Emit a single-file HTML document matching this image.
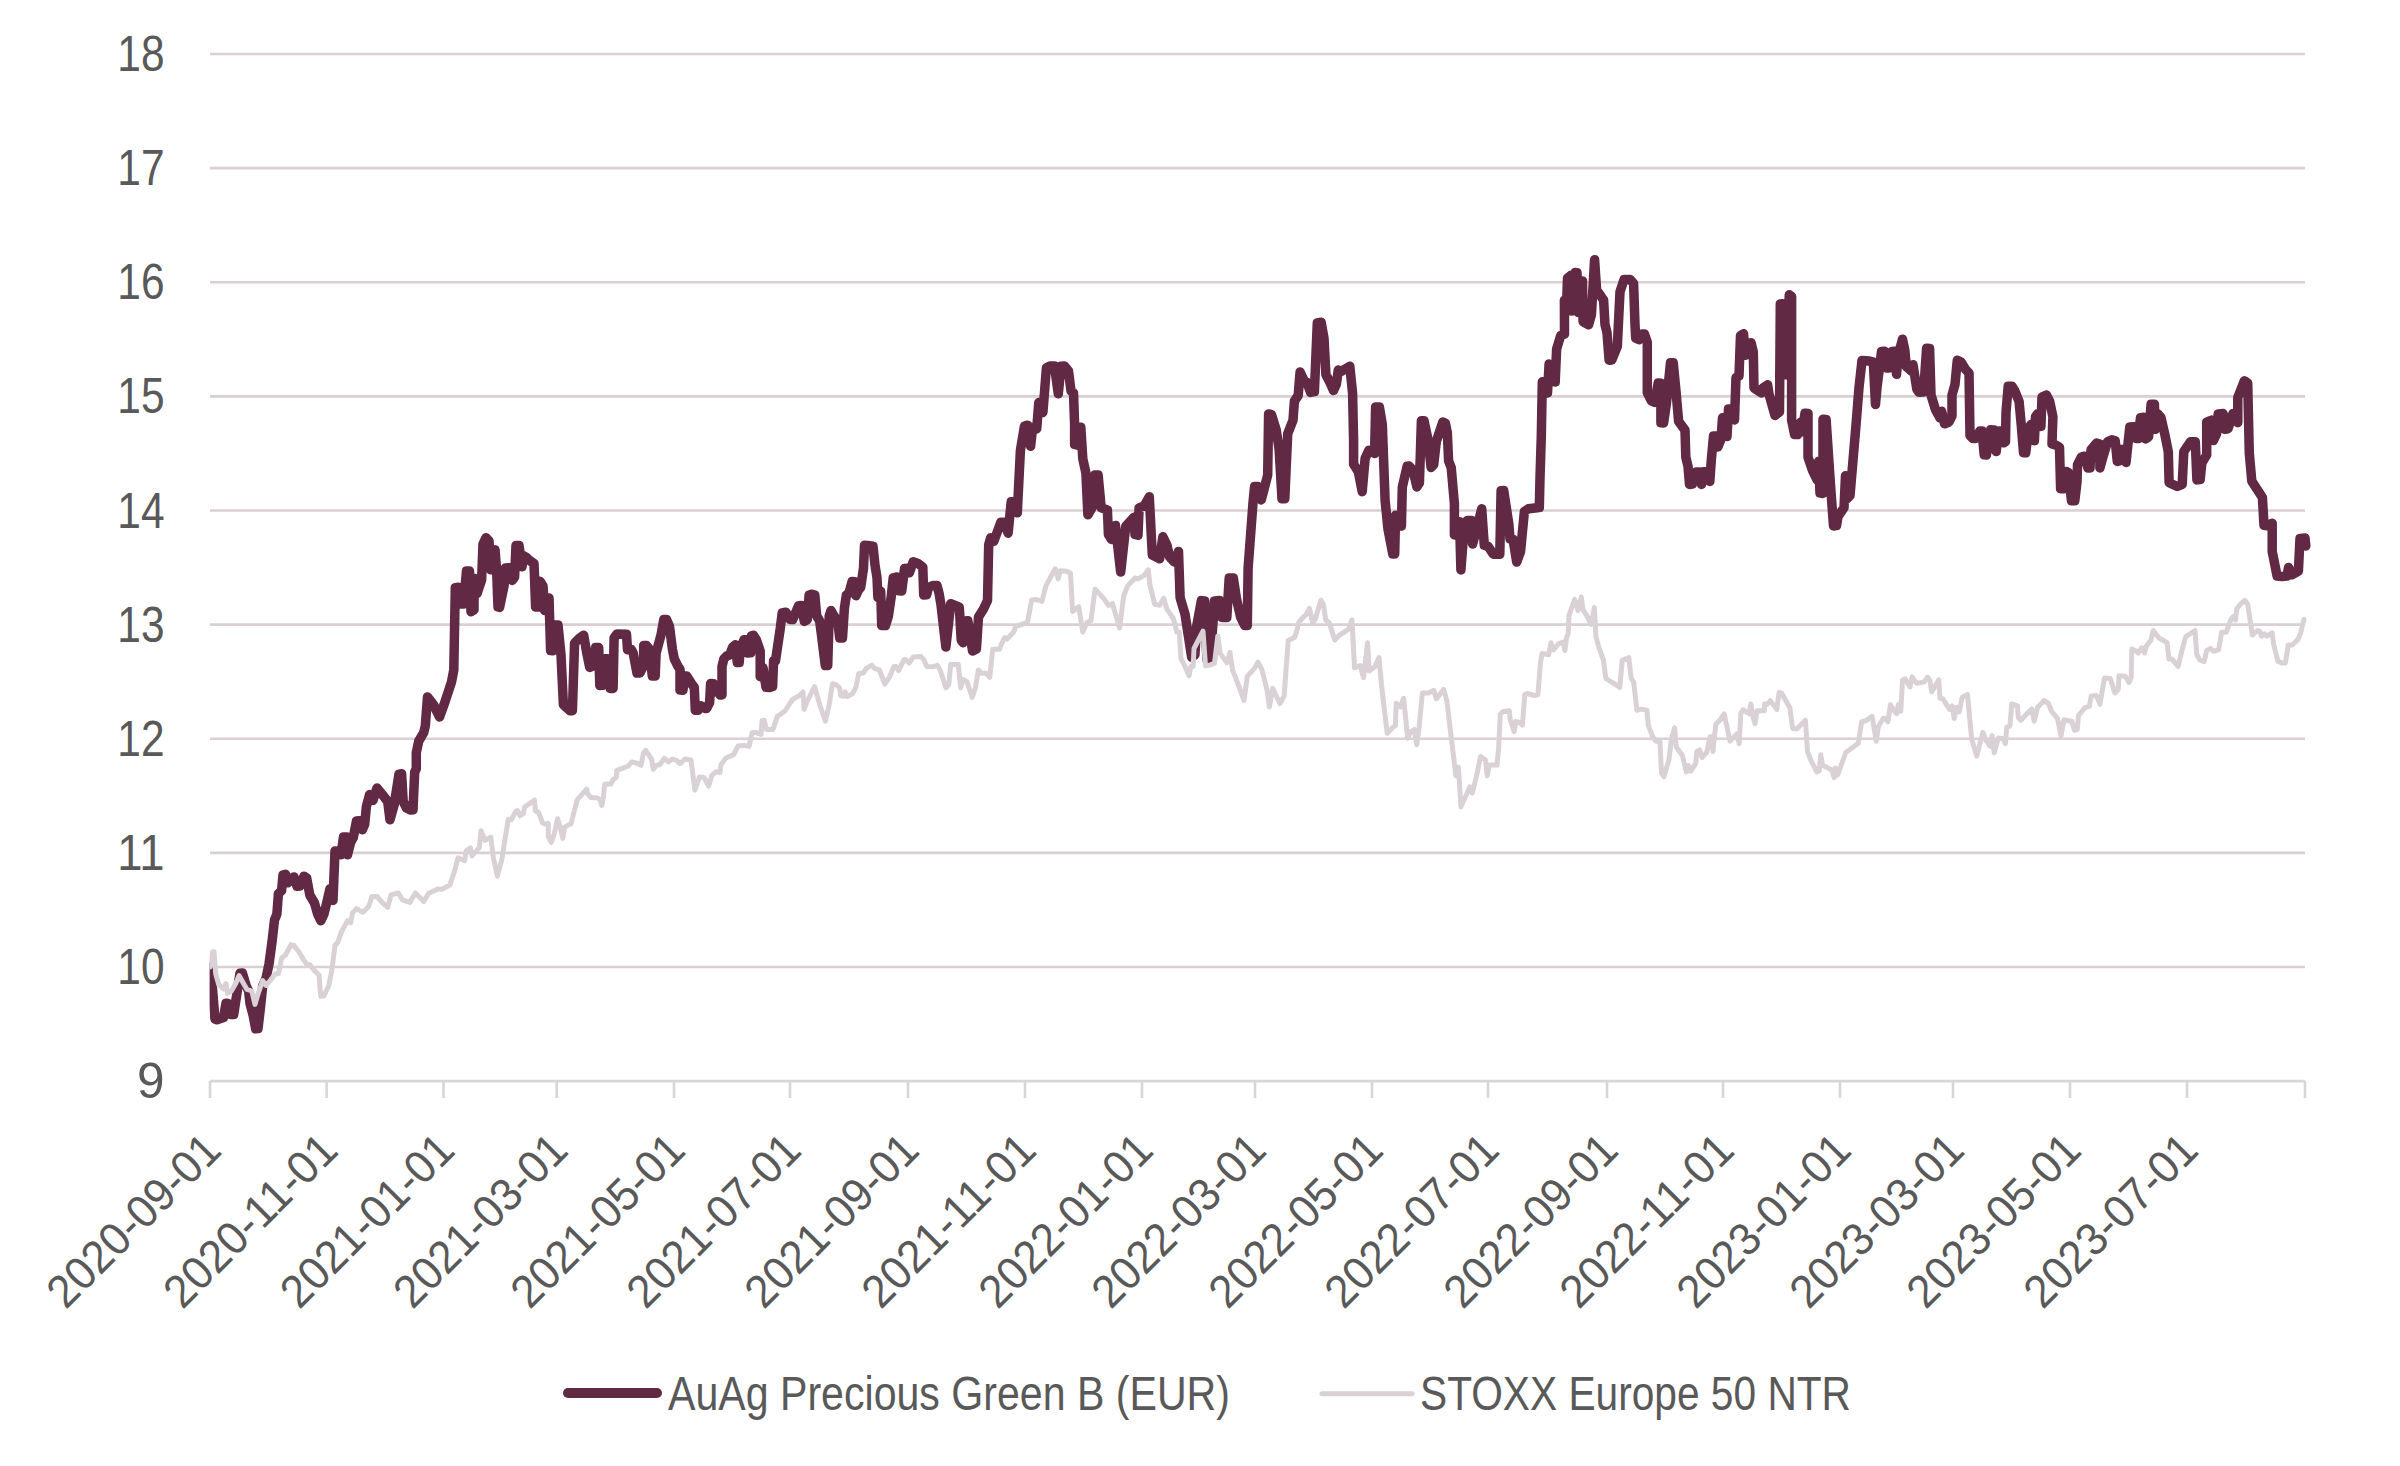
<!DOCTYPE html><html><head><meta charset="utf-8"><style>html,body{margin:0;padding:0;background:#fff;}svg{display:block;}text{font-family:"Liberation Sans",sans-serif;fill:#595959;}</style></head><body>
<svg width="2400" height="1466" viewBox="0 0 2400 1466">
<rect width="2400" height="1466" fill="#ffffff"/>
<line x1="210" y1="967.0" x2="2305" y2="967.0" stroke="#d9cfd4" stroke-width="2.6"/>
<line x1="210" y1="852.9" x2="2305" y2="852.9" stroke="#d9cfd4" stroke-width="2.6"/>
<line x1="210" y1="738.7" x2="2305" y2="738.7" stroke="#d9cfd4" stroke-width="2.6"/>
<line x1="210" y1="624.6" x2="2305" y2="624.6" stroke="#d9cfd4" stroke-width="2.6"/>
<line x1="210" y1="510.5" x2="2305" y2="510.5" stroke="#d9cfd4" stroke-width="2.6"/>
<line x1="210" y1="396.4" x2="2305" y2="396.4" stroke="#d9cfd4" stroke-width="2.6"/>
<line x1="210" y1="282.3" x2="2305" y2="282.3" stroke="#d9cfd4" stroke-width="2.6"/>
<line x1="210" y1="168.1" x2="2305" y2="168.1" stroke="#d9cfd4" stroke-width="2.6"/>
<line x1="210" y1="54.0" x2="2305" y2="54.0" stroke="#d9cfd4" stroke-width="2.6"/>
<line x1="210" y1="1081.1" x2="2305" y2="1081.1" stroke="#d6d6d6" stroke-width="2.6"/>
<line x1="210" y1="1081.1" x2="210" y2="1098" stroke="#d6d6d6" stroke-width="2.6"/>
<line x1="326.6" y1="1081.1" x2="326.6" y2="1098" stroke="#d6d6d6" stroke-width="2.6"/>
<line x1="443.5" y1="1081.1" x2="443.5" y2="1098" stroke="#d6d6d6" stroke-width="2.6"/>
<line x1="556.7" y1="1081.1" x2="556.7" y2="1098" stroke="#d6d6d6" stroke-width="2.6"/>
<line x1="674" y1="1081.1" x2="674" y2="1098" stroke="#d6d6d6" stroke-width="2.6"/>
<line x1="790" y1="1081.1" x2="790" y2="1098" stroke="#d6d6d6" stroke-width="2.6"/>
<line x1="908" y1="1081.1" x2="908" y2="1098" stroke="#d6d6d6" stroke-width="2.6"/>
<line x1="1025" y1="1081.1" x2="1025" y2="1098" stroke="#d6d6d6" stroke-width="2.6"/>
<line x1="1142" y1="1081.1" x2="1142" y2="1098" stroke="#d6d6d6" stroke-width="2.6"/>
<line x1="1255" y1="1081.1" x2="1255" y2="1098" stroke="#d6d6d6" stroke-width="2.6"/>
<line x1="1372" y1="1081.1" x2="1372" y2="1098" stroke="#d6d6d6" stroke-width="2.6"/>
<line x1="1488" y1="1081.1" x2="1488" y2="1098" stroke="#d6d6d6" stroke-width="2.6"/>
<line x1="1607" y1="1081.1" x2="1607" y2="1098" stroke="#d6d6d6" stroke-width="2.6"/>
<line x1="1723" y1="1081.1" x2="1723" y2="1098" stroke="#d6d6d6" stroke-width="2.6"/>
<line x1="1840" y1="1081.1" x2="1840" y2="1098" stroke="#d6d6d6" stroke-width="2.6"/>
<line x1="1953" y1="1081.1" x2="1953" y2="1098" stroke="#d6d6d6" stroke-width="2.6"/>
<line x1="2070" y1="1081.1" x2="2070" y2="1098" stroke="#d6d6d6" stroke-width="2.6"/>
<line x1="2187" y1="1081.1" x2="2187" y2="1098" stroke="#d6d6d6" stroke-width="2.6"/>
<line x1="2305" y1="1081.1" x2="2305" y2="1098" stroke="#d6d6d6" stroke-width="2.6"/>
<text x="164.5" y="1098.1" font-size="49.5" text-anchor="end">9</text>
<text x="164.5" y="984.0" font-size="49.5" text-anchor="end" textLength="47.2" lengthAdjust="spacingAndGlyphs">10</text>
<text x="164.5" y="869.9" font-size="49.5" text-anchor="end" textLength="47.2" lengthAdjust="spacingAndGlyphs">11</text>
<text x="164.5" y="755.7" font-size="49.5" text-anchor="end" textLength="47.2" lengthAdjust="spacingAndGlyphs">12</text>
<text x="164.5" y="641.6" font-size="49.5" text-anchor="end" textLength="47.2" lengthAdjust="spacingAndGlyphs">13</text>
<text x="164.5" y="527.5" font-size="49.5" text-anchor="end" textLength="47.2" lengthAdjust="spacingAndGlyphs">14</text>
<text x="164.5" y="413.4" font-size="49.5" text-anchor="end" textLength="47.2" lengthAdjust="spacingAndGlyphs">15</text>
<text x="164.5" y="299.3" font-size="49.5" text-anchor="end" textLength="47.2" lengthAdjust="spacingAndGlyphs">16</text>
<text x="164.5" y="185.1" font-size="49.5" text-anchor="end" textLength="47.2" lengthAdjust="spacingAndGlyphs">17</text>
<text x="164.5" y="71.0" font-size="49.5" text-anchor="end" textLength="47.2" lengthAdjust="spacingAndGlyphs">18</text>
<text x="0" y="0" font-size="46" text-anchor="end" textLength="223" lengthAdjust="spacingAndGlyphs" transform="translate(223.5,1152.5) rotate(-45)">2020-09-01</text>
<text x="0" y="0" font-size="46" text-anchor="end" textLength="223" lengthAdjust="spacingAndGlyphs" transform="translate(340.1,1152.5) rotate(-45)">2020-11-01</text>
<text x="0" y="0" font-size="46" text-anchor="end" textLength="223" lengthAdjust="spacingAndGlyphs" transform="translate(457.0,1152.5) rotate(-45)">2021-01-01</text>
<text x="0" y="0" font-size="46" text-anchor="end" textLength="223" lengthAdjust="spacingAndGlyphs" transform="translate(570.2,1152.5) rotate(-45)">2021-03-01</text>
<text x="0" y="0" font-size="46" text-anchor="end" textLength="223" lengthAdjust="spacingAndGlyphs" transform="translate(687.5,1152.5) rotate(-45)">2021-05-01</text>
<text x="0" y="0" font-size="46" text-anchor="end" textLength="223" lengthAdjust="spacingAndGlyphs" transform="translate(803.5,1152.5) rotate(-45)">2021-07-01</text>
<text x="0" y="0" font-size="46" text-anchor="end" textLength="223" lengthAdjust="spacingAndGlyphs" transform="translate(921.5,1152.5) rotate(-45)">2021-09-01</text>
<text x="0" y="0" font-size="46" text-anchor="end" textLength="223" lengthAdjust="spacingAndGlyphs" transform="translate(1038.5,1152.5) rotate(-45)">2021-11-01</text>
<text x="0" y="0" font-size="46" text-anchor="end" textLength="223" lengthAdjust="spacingAndGlyphs" transform="translate(1155.5,1152.5) rotate(-45)">2022-01-01</text>
<text x="0" y="0" font-size="46" text-anchor="end" textLength="223" lengthAdjust="spacingAndGlyphs" transform="translate(1268.5,1152.5) rotate(-45)">2022-03-01</text>
<text x="0" y="0" font-size="46" text-anchor="end" textLength="223" lengthAdjust="spacingAndGlyphs" transform="translate(1385.5,1152.5) rotate(-45)">2022-05-01</text>
<text x="0" y="0" font-size="46" text-anchor="end" textLength="223" lengthAdjust="spacingAndGlyphs" transform="translate(1501.5,1152.5) rotate(-45)">2022-07-01</text>
<text x="0" y="0" font-size="46" text-anchor="end" textLength="223" lengthAdjust="spacingAndGlyphs" transform="translate(1620.5,1152.5) rotate(-45)">2022-09-01</text>
<text x="0" y="0" font-size="46" text-anchor="end" textLength="223" lengthAdjust="spacingAndGlyphs" transform="translate(1736.5,1152.5) rotate(-45)">2022-11-01</text>
<text x="0" y="0" font-size="46" text-anchor="end" textLength="223" lengthAdjust="spacingAndGlyphs" transform="translate(1853.5,1152.5) rotate(-45)">2023-01-01</text>
<text x="0" y="0" font-size="46" text-anchor="end" textLength="223" lengthAdjust="spacingAndGlyphs" transform="translate(1966.5,1152.5) rotate(-45)">2023-03-01</text>
<text x="0" y="0" font-size="46" text-anchor="end" textLength="223" lengthAdjust="spacingAndGlyphs" transform="translate(2083.5,1152.5) rotate(-45)">2023-05-01</text>
<text x="0" y="0" font-size="46" text-anchor="end" textLength="223" lengthAdjust="spacingAndGlyphs" transform="translate(2200.5,1152.5) rotate(-45)">2023-07-01</text>
<defs><clipPath id="pc"><rect x="209.6" y="0" width="2105" height="1466"/></clipPath></defs><g clip-path="url(#pc)">
<path d="M210.0,967.0 L211.0,971.0 L215.0,1019.0 L217.0,1019.8 L223.5,1017.6 L226.0,1003.2 L228.0,1003.5 L231.0,1014.5 L233.7,1014.5 L240.0,973.2 L242.4,973.0 L246.3,986.0 L248.6,991.0 L250.0,1003.5 L253.3,1016.0 L255.7,1028.8 L258.0,1028.6 L260.4,1008.0 L262.7,986.0 L266.0,978.4 L269.0,964.0 L272.0,942.0 L274.5,920.0 L276.9,914.0 L278.4,893.7 L281.6,890.6 L283.0,875.0 L285.5,874.2 L287.8,882.8 L290.0,881.0 L294.0,876.9 L297.0,886.3 L300.0,886.0 L304.0,876.2 L306.7,878.0 L309.8,895.0 L314.5,903.0 L317.6,914.0 L320.8,920.8 L324.0,914.0 L327.0,901.6 L330.0,888.7 L333.0,900.4 L335.0,851.0 L338.0,851.2 L341.0,854.8 L343.5,836.9 L346.7,837.0 L347.5,854.8 L350.6,842.5 L353.3,837.5 L356.5,821.0 L359.0,820.7 L362.3,829.8 L364.7,824.4 L366.4,806.4 L369.6,794.5 L373.0,800.3 L377.0,788.0 L382.7,795.0 L387.7,801.5 L390.0,819.8 L394.2,804.8 L399.0,774.1 L401.6,773.7 L403.2,801.5 L406.5,808.0 L410.6,810.1 L413.0,809.7 L414.7,772.0 L416.3,768.8 L416.3,752.4 L418.8,741.0 L423.7,732.7 L425.3,726.2 L427.5,696.9 L433.5,704.7 L439.5,717.0 L444.0,704.7 L451.5,682.0 L453.8,670.0 L455.3,587.6 L458.3,587.2 L460.5,604.0 L463.5,604.0 L466.5,571.0 L469.5,571.0 L471.0,611.8 L474.0,610.0 L474.0,578.2 L477.0,593.8 L481.6,580.0 L483.0,544.0 L486.0,537.7 L489.0,541.0 L490.6,569.8 L493.6,549.7 L495.0,550.0 L496.6,569.5 L498.0,607.0 L499.6,607.4 L504.0,586.0 L505.6,568.0 L510.0,567.7 L512.3,580.4 L514.6,577.0 L516.0,545.5 L519.0,545.5 L522.0,566.8 L523.6,555.7 L526.6,557.5 L529.6,560.5 L534.0,563.5 L535.6,607.0 L538.6,607.0 L540.0,581.2 L543.0,586.0 L544.6,610.4 L547.6,598.0 L549.0,598.0 L550.6,650.6 L552.9,650.8 L555.0,625.0 L558.0,625.0 L561.0,655.0 L563.4,704.7 L570.0,710.7 L572.4,710.7 L574.6,643.0 L579.0,638.6 L583.7,635.2 L586.6,652.0 L589.7,667.4 L594.0,665.6 L595.6,647.6 L598.7,647.6 L599.8,685.5 L602.6,685.3 L604.6,658.8 L607.4,658.8 L610.3,688.4 L613.1,688.4 L614.1,637.8 L617.0,634.0 L626.5,634.2 L627.5,649.8 L631.3,649.5 L633.2,653.0 L637.0,673.0 L640.0,673.0 L643.7,665.5 L643.7,645.4 L646.6,645.6 L649.4,649.2 L652.3,676.0 L655.2,676.0 L656.1,653.0 L661.0,635.0 L663.8,619.6 L666.6,619.6 L669.5,626.3 L672.4,649.2 L674.3,658.8 L678.0,666.4 L680.0,669.3 L680.0,690.0 L682.9,690.3 L684.8,676.0 L686.7,676.0 L691.5,683.6 L694.3,687.4 L695.3,710.3 L698.2,710.3 L701.0,705.8 L704.8,708.4 L706.7,708.4 L709.6,702.7 L710.6,683.6 L713.4,683.8 L714.4,692.0 L718.2,686.7 L720.1,695.0 L722.0,695.0 L722.0,666.4 L723.9,658.8 L726.8,655.9 L729.7,655.0 L732.5,647.3 L735.4,644.7 L737.3,662.6 L739.2,662.6 L740.2,649.2 L744.0,639.7 L746.9,639.7 L746.9,653.0 L750.7,652.8 L751.6,635.8 L753.5,635.2 L756.4,639.7 L760.2,651.0 L760.2,676.7 L763.0,667.6 L766.0,687.2 L769.8,687.4 L772.6,686.5 L773.6,660.7 L775.5,660.7 L780.3,628.2 L782.2,613.0 L786.0,612.2 L789.8,619.4 L792.7,619.6 L798.6,605.7 L801.5,605.5 L804.3,621.4 L807.2,619.8 L809.1,595.0 L812.0,594.2 L814.8,595.0 L816.7,616.0 L819.6,620.7 L821.5,635.0 L825.3,665.6 L827.7,665.6 L829.2,616.0 L831.0,610.5 L834.0,616.0 L837.8,620.7 L839.7,638.0 L842.5,638.0 L844.4,608.3 L846.4,595.0 L849.0,593.0 L852.1,581.6 L855.0,581.8 L856.0,595.7 L857.8,591.0 L860.7,587.3 L863.5,568.2 L864.5,545.3 L867.4,545.5 L873.0,546.2 L875.0,565.3 L877.0,577.8 L877.9,597.6 L880.7,591.2 L881.7,625.5 L885.5,625.5 L888.4,616.0 L891.2,596.9 L893.2,577.8 L897.0,577.0 L898.9,590.8 L901.7,591.1 L904.6,568.4 L907.5,568.2 L909.4,572.8 L913.2,561.8 L918.0,563.4 L922.8,567.2 L923.7,595.0 L926.6,594.8 L928.5,587.3 L933.3,585.4 L937.0,585.4 L939.2,593.9 L941.0,605.0 L945.9,647.1 L950.7,603.7 L959.3,607.2 L961.2,640.1 L963.1,642.7 L964.9,621.0 L967.8,620.7 L972.6,651.0 L976.4,649.0 L978.5,617.0 L983.5,609.0 L987.5,600.5 L988.7,544.7 L990.7,537.7 L993.8,541.4 L1000.9,522.2 L1004.0,522.2 L1008.1,533.2 L1011.2,501.7 L1015.3,501.7 L1017.3,512.8 L1020.4,450.5 L1024.5,426.0 L1027.5,425.2 L1030.6,446.2 L1032.7,427.2 L1036.7,428.8 L1038.8,402.6 L1042.9,412.5 L1046.4,368.0 L1050.0,366.0 L1054.5,366.0 L1058.3,393.8 L1061.0,366.2 L1064.5,366.0 L1068.5,371.0 L1071.0,391.0 L1073.5,393.0 L1074.6,424.0 L1074.6,444.4 L1077.7,445.2 L1080.8,427.2 L1082.8,458.7 L1085.9,473.0 L1087.9,514.8 L1092.0,507.8 L1095.0,475.0 L1098.1,475.0 L1101.2,507.8 L1107.4,509.9 L1108.4,534.4 L1111.5,539.4 L1115.5,525.4 L1117.6,544.7 L1120.7,572.1 L1123.7,544.7 L1125.8,526.2 L1134.0,517.2 L1135.0,534.4 L1138.0,535.3 L1139.1,507.8 L1144.2,505.8 L1149.3,496.7 L1150.3,516.0 L1152.3,555.1 L1159.6,558.8 L1162.9,536.7 L1167.0,545.3 L1169.5,556.8 L1174.4,562.1 L1178.5,551.4 L1180.1,597.7 L1185.0,614.1 L1188.3,635.4 L1191.6,657.1 L1194.9,655.0 L1196.5,627.2 L1201.4,600.6 L1204.7,601.0 L1205.5,633.7 L1207.1,660.0 L1210.4,660.0 L1214.5,601.0 L1219.4,600.6 L1221.9,617.4 L1226.8,617.4 L1229.2,578.1 L1233.3,578.1 L1236.6,599.4 L1240.7,617.4 L1244.8,625.6 L1247.3,625.6 L1248.1,568.2 L1253.0,502.7 L1254.6,486.4 L1257.9,486.4 L1261.2,499.9 L1264.4,488.0 L1267.7,474.9 L1268.6,413.9 L1271.5,414.6 L1276.2,429.9 L1279.1,449.0 L1282.0,498.7 L1284.8,498.7 L1287.7,433.7 L1293.0,420.3 L1294.4,401.2 L1298.2,395.5 L1300.1,371.9 L1303.9,380.2 L1306.8,382.1 L1310.6,392.4 L1314.4,391.7 L1317.3,322.9 L1321.1,322.2 L1324.0,338.2 L1325.9,374.5 L1330.7,384.0 L1333.5,390.5 L1336.4,384.0 L1338.3,370.0 L1341.2,371.4 L1349.8,366.2 L1352.6,393.6 L1353.6,441.4 L1353.6,464.3 L1358.4,471.9 L1362.2,491.7 L1365.1,458.5 L1368.9,450.2 L1374.6,453.5 L1375.6,407.0 L1379.4,407.0 L1382.3,424.2 L1385.1,500.6 L1388.0,529.2 L1392.8,554.1 L1394.7,554.1 L1395.6,515.2 L1401.4,526.1 L1402.3,487.2 L1407.1,466.2 L1409.1,466.0 L1413.0,470.0 L1416.9,486.9 L1419.4,483.0 L1421.4,420.7 L1424.0,420.7 L1427.9,438.9 L1431.1,467.5 L1433.7,464.8 L1436.3,441.5 L1442.8,421.9 L1445.4,423.3 L1447.3,432.4 L1448.6,460.9 L1451.2,467.4 L1454.4,503.7 L1454.4,534.9 L1459.6,521.7 L1460.9,569.9 L1463.5,536.1 L1467.4,520.5 L1471.3,520.5 L1472.6,544.0 L1477.8,524.4 L1481.7,508.8 L1484.3,545.3 L1488.1,546.4 L1493.3,554.2 L1499.8,554.3 L1501.1,490.7 L1503.7,490.6 L1508.9,524.4 L1510.0,538.8 L1513.0,539.2 L1516.7,562.1 L1520.5,551.7 L1524.4,511.5 L1528.3,508.8 L1537.4,507.7 L1539.3,507.6 L1540.0,477.8 L1541.3,436.3 L1542.3,381.8 L1545.0,381.8 L1547.5,392.9 L1549.1,363.9 L1552.5,369.6 L1555.2,382.0 L1556.6,349.1 L1560.7,335.5 L1564.5,334.1 L1564.4,300.0 L1566.8,298.6 L1567.5,278.2 L1570.9,275.3 L1571.5,311.1 L1575.0,272.6 L1577.0,272.7 L1578.0,312.4 L1581.1,280.9 L1582.5,280.9 L1583.1,321.8 L1588.6,324.7 L1591.4,315.0 L1594.6,259.7 L1596.6,290.0 L1603.6,300.0 L1605.0,324.5 L1607.0,332.7 L1609.1,360.2 L1611.8,360.0 L1617.3,346.4 L1620.0,291.8 L1624.1,279.5 L1630.2,279.4 L1633.6,283.6 L1635.0,324.5 L1635.7,338.2 L1639.1,339.7 L1641.8,333.9 L1644.5,334.1 L1647.3,342.3 L1647.3,392.7 L1651.4,400.9 L1654.8,402.4 L1658.2,383.0 L1660.9,383.2 L1660.9,422.7 L1663.6,422.9 L1666.4,403.6 L1670.5,362.7 L1673.2,362.7 L1675.9,390.0 L1678.6,421.4 L1685.0,430.1 L1685.8,457.1 L1688.0,466.1 L1689.5,484.4 L1692.5,484.1 L1696.3,472.1 L1699.3,472.1 L1701.5,484.4 L1703.8,471.8 L1707.5,472.1 L1709.8,481.4 L1711.3,460.1 L1713.5,436.1 L1716.5,436.1 L1718.0,446.9 L1721.0,439.1 L1722.5,417.8 L1725.5,419.6 L1727.0,436.4 L1728.5,409.1 L1731.5,409.1 L1734.5,419.9 L1736.0,377.6 L1739.0,376.1 L1740.5,335.5 L1743.5,333.7 L1745.5,355.3 L1751.0,342.7 L1753.3,352.0 L1754.0,388.0 L1758.6,391.1 L1761.6,392.9 L1763.0,388.0 L1767.6,384.8 L1769.0,394.1 L1775.0,415.4 L1779.5,412.0 L1780.3,304.0 L1782.6,303.7 L1785.5,374.8 L1789.3,294.7 L1791.6,296.5 L1791.6,420.0 L1794.6,434.6 L1797.6,434.6 L1800.6,422.3 L1802.0,431.9 L1805.0,413.3 L1808.0,413.6 L1808.0,457.1 L1812.6,470.6 L1817.1,479.9 L1818.6,461.3 L1820.0,493.1 L1823.0,493.4 L1823.0,419.3 L1826.1,419.6 L1830.5,485.1 L1833.5,525.9 L1836.5,525.6 L1838.0,516.6 L1844.0,507.6 L1845.5,475.8 L1847.0,498.9 L1850.0,495.6 L1856.0,425.1 L1859.0,387.5 L1862.0,360.5 L1869.5,361.0 L1873.3,362.0 L1875.5,404.4 L1877.0,387.5 L1881.5,351.5 L1884.5,351.2 L1886.8,368.0 L1889.0,368.0 L1892.0,351.5 L1895.0,351.2 L1896.5,374.3 L1898.0,356.0 L1902.5,339.2 L1904.8,350.0 L1906.3,366.5 L1911.6,371.3 L1913.0,364.7 L1916.8,389.0 L1919.0,392.3 L1923.6,392.0 L1926.6,348.2 L1929.6,348.5 L1931.0,395.0 L1935.6,410.0 L1940.0,417.8 L1941.6,411.2 L1944.6,423.8 L1949.0,422.0 L1952.0,416.0 L1952.0,395.0 L1955.0,384.5 L1957.3,360.2 L1961.0,362.0 L1965.6,369.5 L1969.0,373.0 L1970.0,435.6 L1973.0,438.6 L1975.5,438.5 L1979.8,431.0 L1982.0,431.0 L1984.2,454.8 L1986.4,455.0 L1990.7,429.8 L1994.0,430.0 L1996.2,451.6 L1998.4,431.0 L2000.6,431.0 L2003.8,442.8 L2005.5,441.9 L2006.0,412.4 L2008.2,386.2 L2012.0,386.3 L2014.7,390.6 L2019.1,401.5 L2021.3,425.5 L2023.5,452.7 L2025.7,452.8 L2028.9,427.7 L2031.1,424.5 L2034.4,440.7 L2035.5,416.8 L2037.7,413.6 L2040.9,426.5 L2042.0,397.1 L2046.4,395.0 L2049.7,401.5 L2052.9,416.8 L2052.0,443.9 L2056.2,445.2 L2059.5,447.3 L2060.6,488.7 L2062.8,488.8 L2066.0,471.4 L2068.2,472.4 L2071.5,500.8 L2074.8,500.8 L2077.0,482.0 L2077.5,464.8 L2081.3,457.1 L2084.6,456.2 L2087.9,468.0 L2090.0,467.9 L2091.1,449.5 L2096.6,443.1 L2099.9,444.0 L2099.9,467.9 L2103.2,456.0 L2107.5,441.9 L2111.9,439.8 L2115.2,440.8 L2117.3,461.4 L2120.6,460.4 L2120.6,449.5 L2125.0,449.5 L2126.0,462.5 L2129.8,427.1 L2133.9,426.7 L2136.4,438.6 L2138.0,438.6 L2140.5,417.7 L2143.7,417.3 L2145.4,439.0 L2148.6,436.9 L2151.1,404.2 L2154.4,404.2 L2155.2,429.2 L2157.6,413.6 L2160.9,417.3 L2165.0,435.3 L2168.3,451.7 L2169.1,482.7 L2177.3,486.5 L2182.2,484.4 L2183.8,451.7 L2190.4,441.8 L2195.3,441.8 L2196.9,479.9 L2200.2,479.5 L2201.8,463.1 L2206.7,454.9 L2206.7,422.2 L2211.7,420.1 L2213.3,440.6 L2216.6,433.6 L2218.2,414.0 L2223.1,413.6 L2224.7,429.2 L2228.0,428.7 L2232.9,413.6 L2237.8,422.6 L2237.8,397.6 L2244.4,380.8 L2247.7,382.9 L2249.3,453.3 L2251.8,481.1 L2262.4,497.5 L2264.0,525.3 L2267.3,525.7 L2272.2,523.2 L2272.2,551.5 L2277.1,576.0 L2282.0,576.5 L2286.9,576.0 L2288.6,567.4 L2291.8,574.8 L2298.4,571.1 L2300.0,538.4 L2305.0,538.0 L2305.8,546.0" fill="none" stroke="#612943" stroke-width="9.5" stroke-linejoin="round" stroke-linecap="round"/>
<path d="M210.0,967.0 L212.5,951.8 L214.0,951.8 L215.7,973.7 L218.8,984.7 L223.5,988.8 L225.9,983.6 L227.5,993.4 L231.4,991.0 L236.0,983.0 L239.0,975.6 L242.4,981.6 L247.0,989.4 L251.8,991.0 L255.0,1004.4 L258.0,994.0 L262.7,980.6 L266.0,985.4 L270.6,980.0 L275.3,973.7 L278.4,973.7 L281.6,958.0 L285.5,955.0 L291.0,944.6 L294.0,945.5 L298.8,951.8 L303.5,959.6 L307.5,965.4 L309.8,964.6 L314.5,970.6 L319.0,975.0 L320.8,996.4 L324.0,995.7 L328.6,986.0 L331.8,970.6 L335.0,945.5 L338.0,942.0 L341.0,933.0 L344.3,926.7 L347.5,920.6 L350.6,922.9 L352.5,912.9 L356.5,908.6 L363.0,912.3 L368.8,906.3 L372.0,896.5 L377.0,896.5 L382.7,903.0 L387.7,907.4 L391.0,894.9 L398.3,893.0 L402.4,899.8 L409.8,902.4 L415.5,893.0 L423.7,901.6 L428.6,893.2 L438.4,888.9 L441.7,889.4 L449.9,885.0 L454.8,870.3 L458.0,857.8 L464.6,860.7 L466.3,850.6 L470.4,848.0 L472.0,855.8 L479.4,847.4 L481.0,830.8 L485.0,840.2 L490.8,837.3 L493.3,857.2 L497.4,876.2 L502.0,858.7 L505.4,836.7 L508.3,819.3 L511.2,819.8 L515.9,811.2 L517.6,810.6 L520.0,815.8 L523.4,813.5 L524.6,807.1 L528.6,804.2 L532.1,801.9 L534.4,800.2 L535.6,811.2 L538.5,812.3 L542.5,822.8 L544.9,823.9 L548.3,823.4 L548.3,836.7 L551.2,842.4 L554.1,834.3 L557.6,818.7 L559.9,826.2 L562.8,838.4 L564.6,827.4 L568.0,825.0 L571.0,823.9 L572.7,817.0 L577.3,799.6 L582.0,794.3 L586.6,789.2 L587.8,794.3 L591.2,797.8 L597.0,797.8 L600.0,799.6 L601.7,805.4 L603.4,797.2 L604.6,784.5 L606.9,783.9 L611.0,783.9 L612.7,779.9 L616.2,777.5 L616.7,770.6 L620.8,768.8 L628.3,766.0 L631.8,761.9 L636.4,763.0 L641.0,765.4 L643.4,753.2 L645.7,750.3 L651.5,759.0 L653.3,769.4 L656.2,765.4 L659.6,764.8 L664.3,758.4 L668.3,761.9 L672.4,759.0 L677.0,760.7 L680.0,763.6 L685.1,759.0 L691.0,760.0 L694.9,790.1 L699.3,777.1 L704.2,777.6 L708.6,786.2 L711.8,775.4 L716.2,771.6 L720.0,772.6 L721.1,764.5 L726.0,758.0 L733.7,754.6 L738.0,745.9 L743.5,745.4 L749.0,746.4 L752.2,732.8 L755.5,732.3 L761.0,734.4 L762.0,720.8 L764.2,720.3 L766.4,729.5 L773.0,729.5 L777.3,716.4 L785.0,711.0 L789.3,704.4 L792.6,699.5 L799.2,695.7 L803.0,691.9 L804.1,709.3 L806.8,702.2 L814.5,686.5 L820.0,705.5 L825.4,721.3 L829.2,704.4 L832.5,683.7 L836.3,684.8 L839.6,688.0 L840.7,695.7 L843.9,696.2 L845.0,691.9 L847.2,696.7 L852.7,693.5 L856.0,687.0 L858.7,673.8 L863.6,672.8 L866.3,668.4 L871.8,665.2 L874.5,668.4 L879.4,670.0 L884.8,684.0 L889.6,677.0 L893.8,666.6 L896.2,666.5 L898.6,670.6 L903.9,659.8 L905.8,659.4 L909.1,663.0 L913.4,656.9 L921.1,656.6 L923.9,659.8 L926.8,666.5 L933.5,666.8 L937.3,665.2 L940.2,670.3 L945.9,687.8 L948.8,684.6 L950.7,664.6 L958.3,664.6 L960.7,687.8 L963.1,679.5 L966.9,681.7 L972.2,697.4 L975.5,687.5 L978.4,669.9 L981.2,673.2 L986.0,673.2 L989.8,677.3 L992.7,649.3 L999.4,649.3 L1001.3,644.5 L1004.6,637.5 L1007.0,639.1 L1013.7,632.1 L1015.6,626.4 L1021.4,624.5 L1027.5,622.4 L1031.6,600.0 L1036.7,599.5 L1041.9,601.4 L1046.0,585.6 L1055.2,568.8 L1058.2,578.9 L1060.3,570.8 L1066.4,571.3 L1070.5,573.3 L1072.6,611.6 L1078.7,606.6 L1082.8,632.1 L1086.9,622.4 L1091.0,620.4 L1095.0,589.3 L1103.3,597.9 L1108.4,605.4 L1112.5,603.6 L1119.6,628.0 L1123.7,595.8 L1127.8,585.6 L1135.0,578.0 L1138.0,578.9 L1144.2,575.4 L1148.3,569.8 L1149.8,584.6 L1154.7,604.3 L1159.6,605.3 L1163.7,598.3 L1167.0,609.2 L1173.6,619.0 L1176.8,632.1 L1179.3,632.1 L1180.9,658.3 L1185.0,666.5 L1189.1,675.7 L1190.8,666.5 L1193.2,666.5 L1194.0,648.5 L1203.0,631.1 L1205.5,665.9 L1210.4,664.9 L1214.5,663.2 L1217.8,636.0 L1220.2,653.4 L1226.8,662.6 L1230.0,652.4 L1232.5,669.8 L1238.2,684.5 L1244.0,700.3 L1247.3,676.3 L1254.6,668.1 L1257.9,662.2 L1262.0,669.8 L1266.9,689.4 L1269.4,706.9 L1272.6,688.4 L1280.0,703.6 L1284.1,696.0 L1288.2,640.6 L1294.7,637.3 L1296.4,632.4 L1298.8,622.6 L1301.3,619.3 L1306.2,614.4 L1309.5,608.4 L1312.7,623.6 L1315.2,619.3 L1320.9,600.2 L1323.4,604.5 L1325.8,620.1 L1329.1,622.6 L1334.8,640.0 L1338.9,635.6 L1348.7,629.1 L1352.0,619.9 L1354.5,667.8 L1360.2,665.7 L1363.5,677.6 L1367.6,642.8 L1369.2,671.1 L1374.9,666.7 L1379.0,657.5 L1381.5,684.7 L1387.2,733.2 L1392.9,727.3 L1395.4,725.7 L1396.2,703.3 L1400.3,707.1 L1403.6,698.4 L1407.7,738.2 L1410.1,732.2 L1414.2,729.5 L1416.7,744.7 L1419.1,727.3 L1422.4,692.9 L1428.9,692.9 L1433.8,690.3 L1436.3,698.9 L1443.7,689.4 L1446.9,701.1 L1451.8,742.0 L1455.9,775.8 L1458.4,767.2 L1460.9,806.9 L1469.9,786.8 L1472.3,793.0 L1475.7,779.7 L1480.6,756.5 L1483.1,758.4 L1485.5,760.0 L1487.2,775.8 L1489.6,764.9 L1497.0,764.9 L1498.6,748.6 L1500.3,714.2 L1502.7,711.8 L1509.3,710.7 L1510.1,719.1 L1514.2,731.6 L1515.8,721.4 L1519.1,722.4 L1522.4,725.1 L1524.8,694.6 L1527.3,693.5 L1534.6,695.6 L1537.9,694.6 L1540.4,663.5 L1542.0,653.4 L1548.6,654.7 L1551.0,642.8 L1553.5,649.8 L1558.4,643.8 L1563.3,642.0 L1564.9,650.6 L1566.6,637.3 L1568.2,634.0 L1569.0,615.2 L1574.7,599.4 L1578.0,610.5 L1581.3,597.0 L1582.9,609.5 L1587.0,616.0 L1591.1,624.4 L1594.4,607.6 L1596.0,637.3 L1599.3,648.7 L1603.4,660.2 L1605.8,678.2 L1609.1,680.7 L1615.7,684.7 L1619.8,687.4 L1622.2,660.2 L1628.8,657.5 L1631.2,678.2 L1633.7,682.3 L1636.9,710.3 L1641.0,709.1 L1646.8,710.1 L1648.4,725.7 L1652.5,736.3 L1655.8,741.2 L1659.9,741.2 L1661.5,773.1 L1663.9,776.6 L1668.9,760.0 L1671.3,739.6 L1674.6,727.9 L1676.2,746.9 L1682.5,755.8 L1686.3,771.9 L1688.3,765.6 L1690.8,771.1 L1695.8,763.3 L1696.7,751.7 L1699.6,749.8 L1702.1,757.7 L1706.7,752.5 L1710.0,736.7 L1711.7,736.7 L1712.9,751.5 L1715.8,724.2 L1720.0,720.0 L1724.2,713.9 L1730.0,741.1 L1736.7,733.9 L1739.2,743.6 L1740.8,713.3 L1743.3,709.8 L1749.2,713.6 L1750.8,703.9 L1752.5,715.0 L1755.0,723.6 L1757.1,710.8 L1764.2,710.8 L1764.6,703.9 L1766.7,704.4 L1770.4,700.6 L1776.7,709.4 L1779.2,692.3 L1781.7,693.3 L1790.0,708.3 L1792.5,728.3 L1796.7,729.0 L1805.4,720.2 L1807.5,751.7 L1810.8,760.0 L1816.7,771.9 L1819.2,770.8 L1820.8,754.8 L1822.5,765.0 L1831.7,770.0 L1834.2,777.7 L1835.4,768.1 L1837.5,775.2 L1845.8,752.5 L1849.2,750.0 L1858.3,743.3 L1861.7,721.7 L1865.8,720.8 L1872.1,716.4 L1876.3,741.1 L1878.3,726.7 L1883.3,718.3 L1885.0,718.3 L1887.9,721.9 L1890.4,704.8 L1894.2,710.8 L1896.7,713.6 L1898.3,704.8 L1900.8,711.1 L1902.5,680.0 L1905.0,678.9 L1910.0,686.9 L1912.1,676.9 L1916.7,683.2 L1920.0,682.7 L1924.2,681.9 L1927.5,677.3 L1930.0,680.8 L1931.7,691.9 L1938.8,679.8 L1940.0,698.3 L1942.9,698.8 L1949.6,709.4 L1952.1,706.0 L1954.2,718.6 L1956.7,707.3 L1959.2,711.9 L1962.1,697.5 L1967.5,694.4 L1969.2,713.3 L1971.7,739.2 L1976.7,756.1 L1980.0,743.3 L1982.9,732.3 L1985.8,740.0 L1990.0,746.1 L1992.1,735.6 L1994.2,752.7 L1998.3,738.1 L2003.3,738.8 L2005.4,743.6 L2006.7,727.5 L2010.0,725.8 L2011.7,703.9 L2017.5,705.8 L2018.3,717.5 L2020.8,720.2 L2025.0,715.8 L2031.7,708.9 L2034.2,721.1 L2037.5,707.5 L2044.2,700.6 L2048.3,703.3 L2051.7,711.7 L2057.5,718.3 L2061.0,736.0 L2063.9,719.8 L2072.0,721.5 L2074.4,730.2 L2077.3,729.6 L2078.4,715.7 L2084.8,707.6 L2089.4,706.4 L2091.2,696.0 L2096.4,695.4 L2099.9,704.1 L2104.5,678.0 L2110.3,678.6 L2114.9,693.0 L2118.4,689.0 L2119.0,675.7 L2125.4,676.3 L2128.9,682.6 L2131.2,677.4 L2131.8,649.0 L2135.8,650.7 L2138.1,653.0 L2141.6,647.9 L2144.5,653.0 L2146.3,646.1 L2150.9,640.3 L2153.2,630.5 L2159.0,638.0 L2167.1,642.6 L2168.9,658.9 L2171.8,658.9 L2178.1,666.4 L2182.2,649.6 L2185.7,636.8 L2195.0,630.5 L2196.7,654.2 L2199.6,660.0 L2204.2,661.7 L2206.6,650.7 L2210.6,648.4 L2213.5,651.3 L2218.7,649.6 L2221.6,632.2 L2226.3,632.2 L2230.9,619.4 L2233.2,616.6 L2235.5,620.0 L2236.7,609.0 L2240.2,604.4 L2244.8,600.3 L2247.7,604.4 L2252.4,635.1 L2257.6,630.5 L2259.9,631.6 L2261.6,636.2 L2264.5,633.9 L2266.9,636.2 L2272.1,632.8 L2273.8,645.0 L2277.9,661.2 L2281.9,662.9 L2285.4,662.9 L2288.3,645.0 L2292.4,645.0 L2298.2,639.1 L2300.5,633.3 L2304.0,619.4" fill="none" stroke="#d9d1d5" stroke-width="5" stroke-linejoin="round" stroke-linecap="round"/>
</g>
<line x1="568" y1="1393" x2="657" y2="1393" stroke="#612943" stroke-width="10" stroke-linecap="round"/>
<text x="668" y="1410" font-size="48.5" textLength="562" lengthAdjust="spacingAndGlyphs">AuAg Precious Green B (EUR)</text>
<line x1="1322" y1="1393.7" x2="1412" y2="1393.7" stroke="#d9d1d5" stroke-width="5" stroke-linecap="round"/>
<text x="1420" y="1410" font-size="48.5" textLength="431" lengthAdjust="spacingAndGlyphs">STOXX Europe 50 NTR</text>
</svg></body></html>
